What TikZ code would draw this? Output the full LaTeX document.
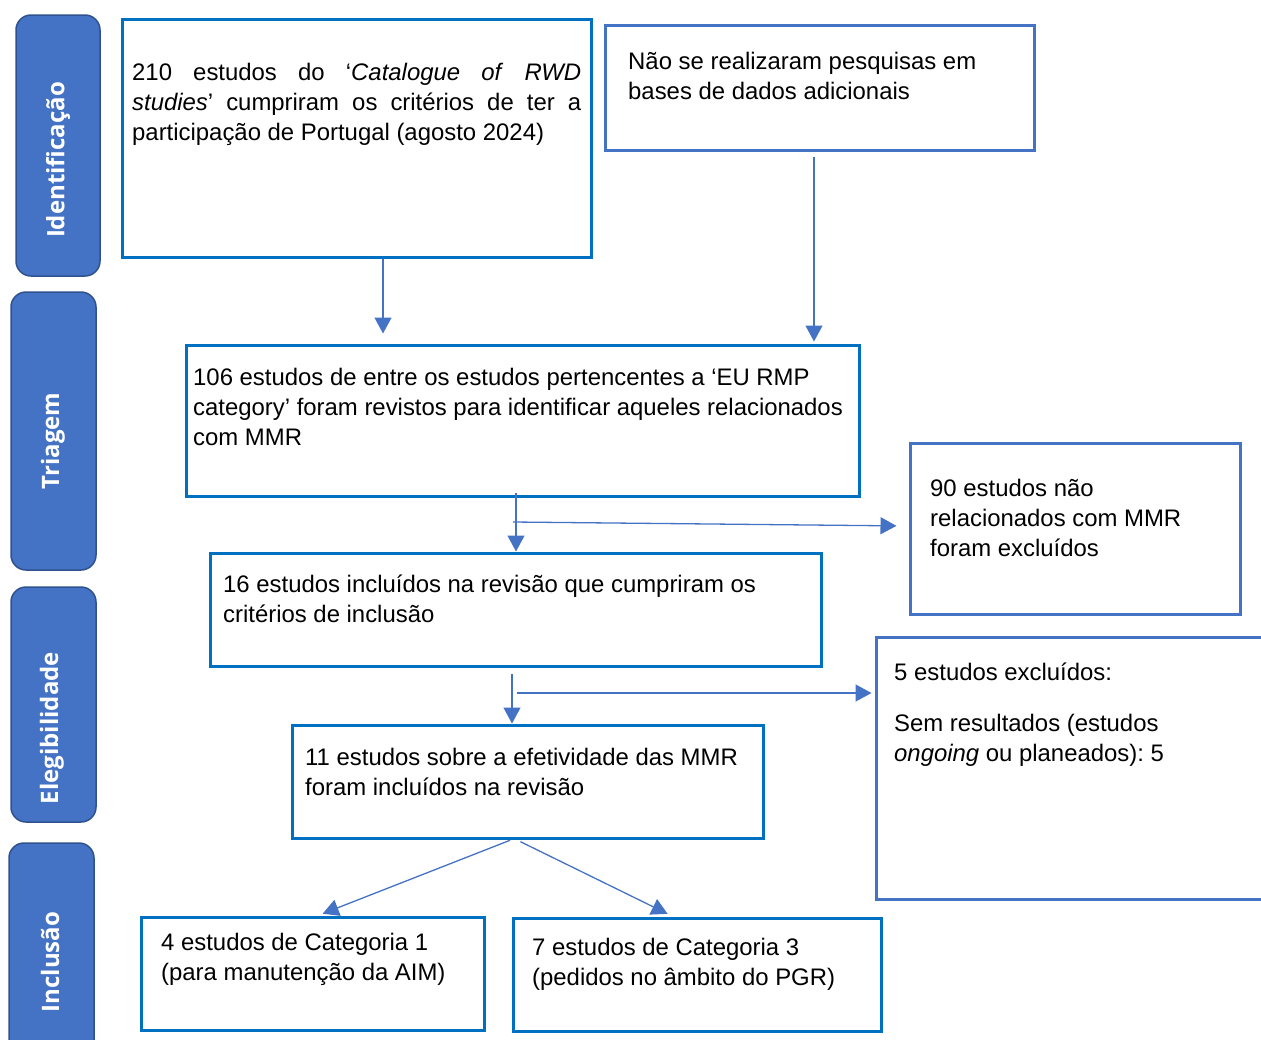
\documentclass[tikz,border=0pt]{standalone}
\usepackage{fontspec}
\setmainfont{Liberation Sans}
\newfontfamily\stagefont{Open Sans}
\usetikzlibrary{arrows.meta,fit}
\definecolor{boxblue}{HTML}{0070C0}
\definecolor{boxlight}{HTML}{4472C4}
\definecolor{stagefill}{HTML}{4472C4}
\definecolor{stageline}{HTML}{2F528F}
\frenchspacing
\begin{document}
\begin{tikzpicture}[x=1pt,y=-1pt,
  stage/.style={draw=stageline,fill=stagefill,line width=1.5pt,rounded corners=15pt,inner sep=0pt},
  stagelabel/.style={rotate=90,text=white,font=\stagefont\bfseries\fontsize{24}{28}\selectfont},
  boxa/.style={draw=boxblue,line width=3pt,inner sep=0pt},
  boxb/.style={draw=boxlight,line width=3pt,inner sep=0pt},
  boxtext/.style={anchor=north west,inner sep=0pt,align=left,font=\fontsize{23.9}{30}\selectfont},
  flow/.style={draw=boxlight,line width=1.3pt,-{Triangle[length=16pt,width=17pt]}}]
\useasboundingbox (0,0) rectangle (1261,1039);
% phases
\node[stage,fit={(16,15) (100,276)}] (sid) {};
\node[stagelabel] (lid) at (58,160) {Identificação};
\node[stage,fit={(11,292) (96,570)}] (str) {};
\node[stagelabel] (ltr) at (53,441) {Triagem};
\node[stage,fit={(11,587) (96,822)}] (sel) {};
\node[stagelabel] (lel) at (52,728) {Elegibilidade};
\node[stage,fit={(9,843) (94,1070)}] (sin) {};
\node[stagelabel] (lin) at (50,962) {Inclusão};
% boxes
\node[boxa,fit={(122,19) (591,257)}] (b210) {};
\node[boxtext] (t210) at (132,63) {\makebox[449pt][s]{210 estudos do ‘\textit{Catalogue} \textit{of} \textit{RWD}}\\
  \makebox[449pt][s]{\textit{studies}’ cumpriram os critérios de ter a}\\
  participação de Portugal (agosto 2024)};
\node[boxb,fit={(605,25) (1034,150)}] (bnao) {};
\node[boxtext] (tnao) at (628,52) {Não se realizaram pesquisas em\\bases de dados adicionais};
\node[boxa,fit={(186,345) (859,496)}] (b106) {};
\node[boxtext] (t106) at (193,368) {106 estudos de entre os estudos pertencentes a ‘EU RMP\\
  category’ foram revistos para identificar aqueles relacionados\\com MMR};
\node[boxb,fit={(910,443) (1240,614)}] (b90) {};
\node[boxtext] (t90) at (930,479) {90 estudos não\\relacionados com MMR\\foram excluídos};
\node[boxa,fit={(210,553) (821,666)}] (b16) {};
\node[boxtext] (t16) at (223,575) {16 estudos incluídos na revisão que cumpriram os\\critérios de inclusão};
\node[boxb,fit={(876,637) (1275,899)}] (b5) {};
\node[boxtext] (t5) at (894,663) {5 estudos excluídos:\\[21pt]Sem resultados (estudos\\\textit{ongoing} ou planeados): 5};
\node[boxa,fit={(292,725) (763,838)}] (b11) {};
\node[boxtext] (t11) at (305,748) {11 estudos sobre a efetividade das MMR\\foram incluídos na revisão};
\node[boxa,fit={(141,917) (484,1030)}] (bcat1) {};
\node[boxtext] (tcat1) at (161,933) {4 estudos de Categoria 1\\(para manutenção da AIM)};
\node[boxa,fit={(513,918) (881,1031)}] (bcat3) {};
\node[boxtext] (tcat3) at (532,938) {7 estudos de Categoria 3\\(pedidos no âmbito do PGR)};
% connectors
\coordinate (xa) at (383,0);
\coordinate (xb) at (814,0);
\coordinate (xc) at (516,0);
\coordinate (xd) at (512,0);
\coordinate (split1) at (513,522);
\coordinate (split2) at (517,693);
\draw[flow,shorten >=10pt] (b210.south -| xa) -- (b106.north -| xa);
\draw[flow,shorten <=5pt,shorten >=2pt] (bnao.south -| xb) -- (b106.north -| xb);
\draw[flow,shorten <=-5pt] (b106.south -| xc) -- (b16.north -| xc);
\draw[flow,shorten >=12pt] (split1) -- (b90.west |- 0,526);
\draw[flow,shorten <=6pt] (b16.south -| xd) -- (b11.north -| xd);
\draw[flow,shorten >=3pt] (split2) -- (b5.west |- split2);
\draw[flow,shorten <=2pt,shorten >=5pt] (b11.south -| xd) -- (bcat1.north -| 318,0);
\draw[flow,shorten <=5pt,shorten >=6pt] (b11.south -| xc) -- (bcat3.north -| 673,0);
\end{tikzpicture}
\end{document}
